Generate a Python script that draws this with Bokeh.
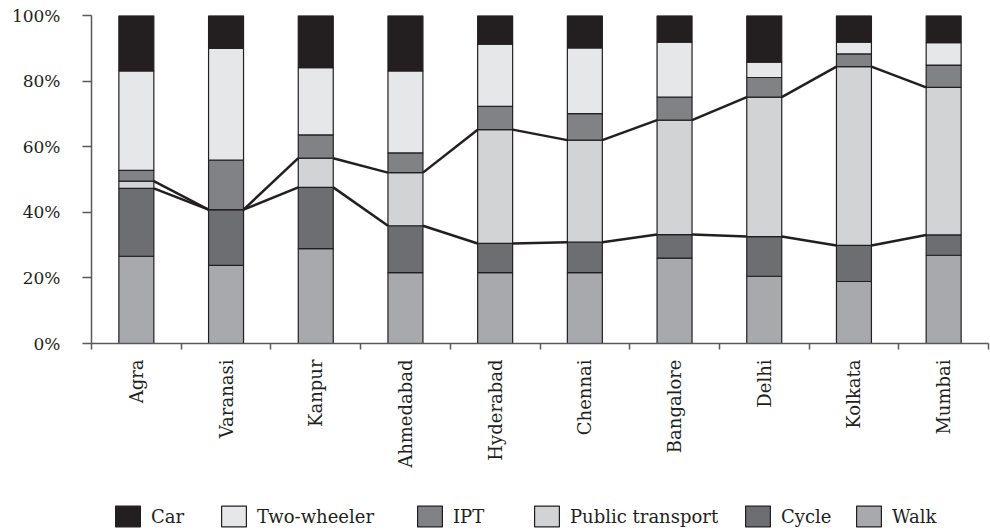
from bokeh.plotting import figure
from bokeh.models import (Range1d, FixedTicker, Legend, LegendItem, ColumnDataSource)
from bokeh.layouts import column
from bokeh.embed import file_html
from bokeh.resources import INLINE
import math

cities = ["Agra", "Varanasi", "Kanpur", "Ahmedabad", "Hyderabad", "Chennai",
          "Bangalore", "Delhi", "Kolkata", "Mumbai"]
walk = [26.6, 23.8, 28.9, 21.6, 21.6, 21.6, 26.0, 20.5, 18.9, 26.9]
cycle = [20.7, 17.0, 18.7, 14.3, 8.9, 9.3, 7.2, 12.1, 11.0, 6.2]
public_transport = [2.2, 0.0, 8.9, 16.2, 34.7, 31.1, 34.9, 42.5, 54.5, 45.0]
ipt = [3.3, 15.1, 7.1, 6.0, 7.1, 8.1, 7.0, 6.0, 3.9, 6.8]
two_wheeler = [30.3, 34.1, 20.5, 25.0, 19.0, 20.0, 16.8, 4.7, 3.6, 6.8]
car = [16.9, 10.0, 15.9, 16.9, 8.7, 9.9, 8.1, 14.2, 8.1, 8.3]

mode_keys = ["walk", "cycle", "pt", "ipt", "tw", "car"]
mode_labels = ["Walk", "Cycle", "Public transport", "IPT", "Two-wheeler", "Car"]
mode_colors = ["#a7a9ac", "#6d6e71", "#d1d3d4", "#808285", "#e6e7e8", "#231f20"]
y_ticks = [0, 20, 40, 60, 80, 100]

FONT = "DejaVu Serif"
INK = "#231f20"
AXIS = "#58595b"
BAR_W = 0.39
W, H_MAIN, H_LEG = 990, 495, 36
FRAME_LEFT = 91
# legend item left edges (page px), in legend order Car ... Walk
LEGEND_X = [112, 218, 414, 531, 742, 853]

xs = [i + 0.5 for i in range(len(cities))]
src = ColumnDataSource(dict(x=xs, walk=walk, cycle=cycle, pt=public_transport,
                            ipt=ipt, tw=two_wheeler, car=car))

p = figure(width=W, height=H_MAIN, output_backend="svg", toolbar_location=None,
           x_range=Range1d(0, len(cities)), y_range=Range1d(0, 100),
           min_border_left=FRAME_LEFT, min_border_right=2, min_border_top=15,
           min_border_bottom=152)
p.outline_line_color = None
p.xgrid.grid_line_color = None
p.ygrid.grid_line_color = None
p.background_fill_color = "white"

rs = p.vbar_stack(mode_keys, x="x", width=BAR_W, source=src, color=mode_colors,
                  line_color=INK, line_width=1.2)

# connecting lines between bars (top of cycle, top of public transport)
lower = [w + c for w, c in zip(walk, cycle)]
upper = [w + c + t for w, c, t in zip(walk, cycle, public_transport)]
right_edges = [x + BAR_W / 2 for x in xs]
left_edges = [x - BAR_W / 2 for x in xs]
for series in (lower, upper):
    p.segment(x0=right_edges[:-1], y0=series[:-1], x1=left_edges[1:], y1=series[1:],
              line_color=INK, line_width=2.5)

# axes
xa = p.xaxis[0]
xa.ticker = FixedTicker(ticks=xs, minor_ticks=list(range(len(cities) + 1)))
xa.major_label_overrides = {x: c for x, c in zip(xs, cities)}
xa.major_label_orientation = math.pi / 2
xa.major_tick_out = 0
xa.major_tick_in = 0
xa.minor_tick_out = 6
xa.minor_tick_in = 0
xa.major_label_standoff = 10
xa.major_label_text_font = FONT
xa.major_label_text_font_size = "18px"
xa.major_label_text_color = INK

ya = p.yaxis[0]
ya.ticker = FixedTicker(ticks=y_ticks, minor_ticks=[])
ya.major_label_overrides = {t: f"{t}%" for t in y_ticks}
ya.major_tick_out = 9
ya.major_tick_in = 0
ya.minor_tick_out = 0
ya.minor_tick_in = 0
ya.major_label_standoff = 22
ya.major_label_text_font = FONT
ya.major_label_text_font_size = "17px"
ya.major_label_text_color = INK

for ax in (xa, ya):
    ax.axis_line_color = AXIS
    ax.axis_line_width = 1.5
    ax.major_tick_line_color = AXIS
    ax.major_tick_line_width = 1.5
    ax.minor_tick_line_color = AXIS
    ax.minor_tick_line_width = 1.5

# legend strip (separate figure so nothing is clipped); its frame is aligned
# with the main plot's frame by the column layout
lg = figure(width=W, height=H_LEG, output_backend="svg", toolbar_location=None,
            x_range=Range1d(0, 1), y_range=Range1d(0, 1),
            x_axis_type=None, y_axis_type=None, min_border=0)
lg.outline_line_color = None
lg.grid.visible = False
# proxy renderers (placed outside the visible range) that only supply legend swatches
lg_renderers = [lg.vbar(x=[-5], top=[-5], bottom=[-6], width=0.1, fill_color=c,
                        line_color=INK, line_width=1.2) for c in mode_colors]
pairs = list(zip(mode_labels, lg_renderers))[::-1]
for (lab, r), lx in zip(pairs, LEGEND_X):
    leg = Legend(items=[LegendItem(label=lab, renderers=[r])],
                 orientation="horizontal", location=(lx - FRAME_LEFT, 2),
                 padding=0, margin=0, label_standoff=8,
                 glyph_width=31, glyph_height=26,
                 label_text_font=FONT, label_text_font_size="18px",
                 label_text_color=INK, border_line_alpha=0,
                 background_fill_alpha=0)
    lg.add_layout(leg, "center")

layout = column(p, lg, spacing=0)
open("out.html", "w").write(file_html(layout, INLINE))
